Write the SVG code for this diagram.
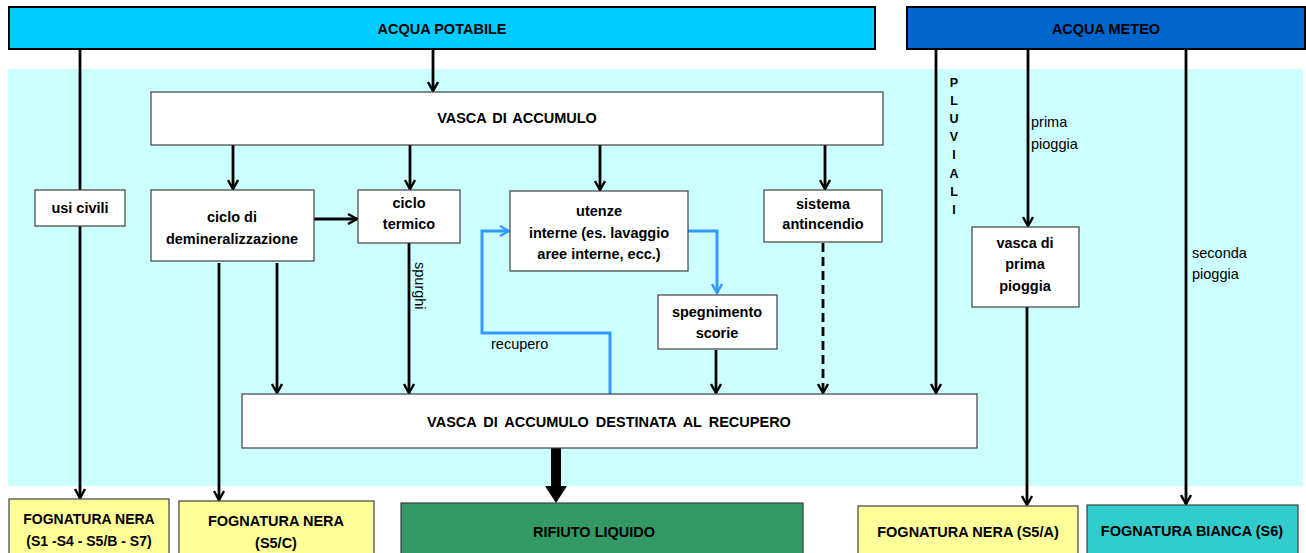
<svg xmlns="http://www.w3.org/2000/svg" width="1306" height="553" viewBox="0 0 1306 553">
<defs>
<style>
.b{fill:#fff;stroke:#404040;stroke-width:1.2}
.t{font-family:"Liberation Sans",Arial,sans-serif;font-size:14.5px;font-weight:bold;fill:#000;text-anchor:middle;dominant-baseline:central}
.n{font-family:"Liberation Sans",Arial,sans-serif;font-size:14.5px;fill:#000;dominant-baseline:central}
.c{fill:none;stroke:#000;stroke-width:2.8}
.cb{fill:none;stroke:#3399FF;stroke-width:3}
</style>
<marker id="ah" viewBox="0 0 12 12" refX="10" refY="6" markerWidth="12" markerHeight="12" markerUnits="userSpaceOnUse" orient="auto">
<path d="M1,1 L10,6 L1,11" fill="none" stroke="#000" stroke-width="2.4"/>
</marker>
<marker id="ahb" viewBox="0 0 12 12" refX="10" refY="6" markerWidth="12" markerHeight="12" markerUnits="userSpaceOnUse" orient="auto">
<path d="M1,1 L10,6 L1,11" fill="none" stroke="#3399FF" stroke-width="2.4"/>
</marker>
</defs>
<rect x="0" y="0" width="1306" height="553" fill="#fff"/>
<rect id="area" x="8" y="69" width="1295" height="417" fill="#CCFFFF"/>

<g id="connectors">
<line class="c" x1="433" y1="49" x2="433" y2="91" marker-end="url(#ah)"/>
<line class="c" x1="80" y1="49" x2="80" y2="190"/>
<line class="c" x1="80" y1="226" x2="80" y2="498" marker-end="url(#ah)"/>
<line class="c" x1="233" y1="145" x2="233" y2="189" marker-end="url(#ah)"/>
<line class="c" x1="410" y1="145" x2="410" y2="189" marker-end="url(#ah)"/>
<line class="c" x1="600" y1="145" x2="600" y2="190" marker-end="url(#ah)"/>
<line class="c" x1="825" y1="145" x2="825" y2="189" marker-end="url(#ah)"/>
<line class="c" x1="314" y1="219" x2="357" y2="219" marker-end="url(#ah)"/>
<line class="c" x1="219" y1="263" x2="219" y2="500" marker-end="url(#ah)"/>
<line class="c" x1="277" y1="263" x2="277" y2="393" marker-end="url(#ah)"/>
<line class="c" x1="409" y1="243" x2="409" y2="393" marker-end="url(#ah)"/>
<line class="c" x1="716" y1="350" x2="716" y2="393" marker-end="url(#ah)"/>
<line class="c" x1="823" y1="243" x2="823" y2="393" stroke-dasharray="9,5" marker-end="url(#ah)"/>
<line class="c" x1="936" y1="49" x2="936" y2="393" marker-end="url(#ah)"/>
<line class="c" x1="1028" y1="49" x2="1028" y2="226" marker-end="url(#ah)"/>
<line class="c" x1="1027" y1="307" x2="1027" y2="505" marker-end="url(#ah)"/>
<line class="c" x1="1186" y1="49" x2="1186" y2="504" marker-end="url(#ah)"/>
<polyline class="cb" points="688,231 717,231 717,293" marker-end="url(#ahb)"/>
<polyline class="cb" points="610,394 610,333 482,333 482,231 509,231" marker-end="url(#ahb)"/>
<polygon points="551,448 561,448 561,486 567,486 556,503 545,486 551,486" fill="#000"/>
<text class="n" x="491" y="344">recupero</text>
<text class="n" x="0" y="0" transform="translate(420,262) rotate(90)">spurghi</text>
<text class="n" x="1031" y="122">prima</text>
<text class="n" x="1031" y="144">pioggia</text>
<text class="n" x="1192" y="253">seconda</text>
<text class="n" x="1192" y="274">pioggia</text>
<g class="t" style="font-size:12.5px">
<text x="954" y="83">P</text><text x="954" y="101">L</text><text x="954" y="119">U</text><text x="954" y="137">V</text><text x="954" y="155">I</text><text x="954" y="174">A</text><text x="954" y="192">L</text><text x="954" y="210">I</text>
</g>
</g>

<g id="acqua-potabile"><rect x="9" y="7" width="866" height="42" fill="#00CCFF" stroke="#000" stroke-width="2"/><text class="t" x="442" y="29">ACQUA POTABILE</text></g>
<g id="acqua-meteo"><rect x="907" y="7" width="398" height="42" fill="#0066CC" stroke="#000" stroke-width="2"/><text class="t" x="1106" y="29">ACQUA METEO</text></g>
<g id="vasca-accumulo"><rect class="b" x="151" y="92" width="732" height="53"/><text class="t" x="517" y="118" style="word-spacing:2px">VASCA DI ACCUMULO</text></g>
<g id="usi-civili"><rect class="b" x="35" y="190" width="90" height="36"/><text class="t" x="80" y="208">usi civili</text></g>
<g id="demineralizzazione"><rect class="b" x="151" y="190" width="163" height="71"/><text class="t" x="232" y="217">ciclo di</text><text class="t" x="232" y="239">demineralizzazione</text></g>
<g id="ciclo-termico"><rect class="b" x="358" y="190" width="102" height="53"/><text class="t" x="409" y="203">ciclo</text><text class="t" x="409" y="224">termico</text></g>
<g id="utenze"><rect class="b" x="510" y="191" width="178" height="80"/><text class="t" x="599" y="211">utenze</text><text class="t" x="599" y="233">interne (es. lavaggio</text><text class="t" x="599" y="254">aree interne, ecc.)</text></g>
<g id="spegnimento"><rect class="b" x="658" y="295" width="119" height="54"/><text class="t" x="717" y="312">spegnimento</text><text class="t" x="717" y="333">scorie</text></g>
<g id="antincendio"><rect class="b" x="764" y="190" width="118" height="52"/><text class="t" x="823" y="204">sistema</text><text class="t" x="823" y="224">antincendio</text></g>
<g id="vasca-prima-pioggia"><rect class="b" x="972" y="227" width="107" height="80"/><text class="t" x="1025" y="243">vasca di</text><text class="t" x="1025" y="264">prima</text><text class="t" x="1025" y="286">pioggia</text></g>
<g id="vasca-recupero"><rect class="b" x="242" y="394" width="735" height="54"/><text class="t" x="609" y="422" style="word-spacing:3px">VASCA DI ACCUMULO DESTINATA AL RECUPERO</text></g>
<g id="fognatura-s1"><rect x="9" y="499" width="160" height="60" fill="#FFFF99" stroke="#404040" stroke-width="1.2"/><text class="t" x="89" y="519" style="font-size:14px">FOGNATURA NERA</text><text class="t" x="89" y="541" style="font-size:14px">(S1 -S4 - S5/B - S7)</text></g>
<g id="fognatura-s5c"><rect x="179" y="501" width="195" height="60" fill="#FFFF99" stroke="#404040" stroke-width="1.2"/><text class="t" x="276" y="521">FOGNATURA NERA</text><text class="t" x="276" y="543">(S5/C)</text></g>
<g id="rifiuto-liquido"><rect x="401" y="503" width="402" height="60" fill="#339966" stroke="#404040" stroke-width="1.2"/><text class="t" x="594" y="532">RIFIUTO LIQUIDO</text></g>
<g id="fognatura-s5a"><rect x="858" y="506" width="220" height="60" fill="#FFFF99" stroke="#404040" stroke-width="1.2"/><text class="t" x="968" y="532">FOGNATURA NERA (S5/A)</text></g>
<g id="fognatura-bianca"><rect x="1087" y="505" width="211" height="60" fill="#33CCCC" stroke="#404040" stroke-width="1.2"/><text class="t" x="1192" y="531">FOGNATURA BIANCA (S6)</text></g>
</svg>
